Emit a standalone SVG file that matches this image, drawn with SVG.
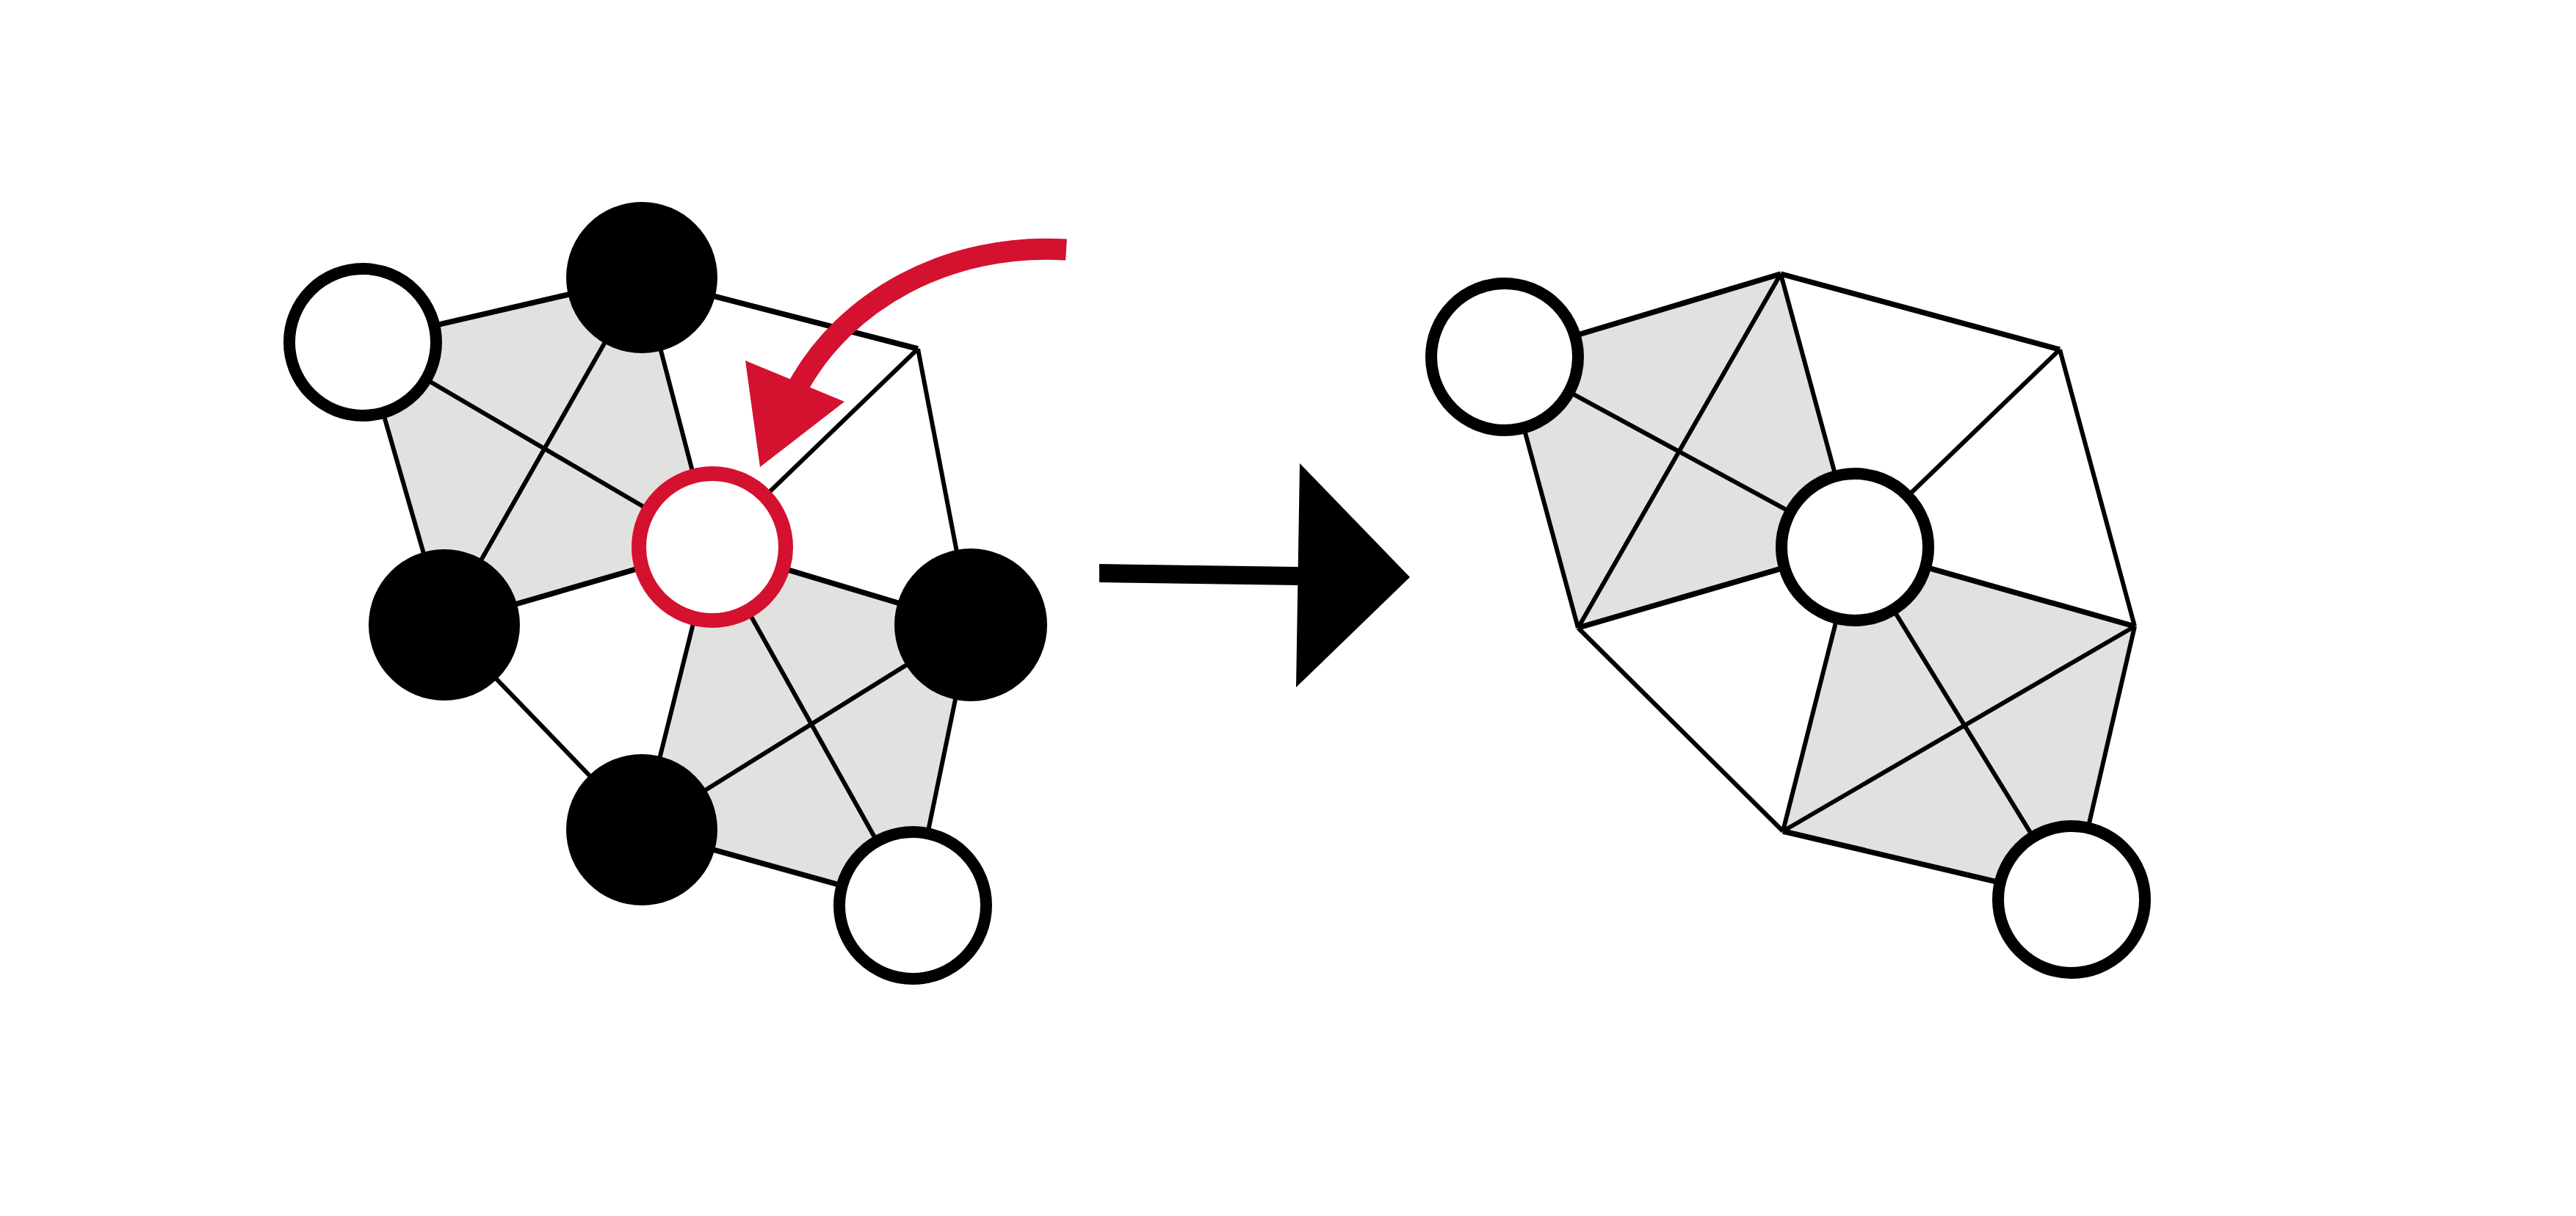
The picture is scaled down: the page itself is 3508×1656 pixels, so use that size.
<svg xmlns="http://www.w3.org/2000/svg" width="3508" height="1656" viewBox="0 0 3508 1656">
<style>
.bg{fill:#ffffff}
.face{fill:#e1e1df;stroke:none}
.thin{stroke:#000;stroke-width:6;fill:none}
.thick{stroke:#000;stroke-width:7.5;fill:none}
.wn{fill:#fff;stroke:#000;stroke-width:16}
.bn{fill:#000;stroke:none}
.rn{fill:#fff;stroke:#d4112f;stroke-width:20}
.red{fill:#d4112f}
</style>
<rect class="bg" x="0" y="0" width="3508" height="1656"/>
<g id="faces">
<polygon class="face" points="494,466 874,378 970,745 605,851"/>
<polygon class="face" points="970,745 1322,851 1243,1233 874,1130"/>
<polygon class="face" points="2049,486 2425,373 2526,745 2149,855"/>
<polygon class="face" points="2526,745 2907,853 2821,1225 2428,1132"/>
</g>
<g id="connectors">
<line class="thick" x1="494" y1="466" x2="874" y2="378"/>
<line class="thick" x1="874" y1="378" x2="1250" y2="475"/>
<line class="thin" x1="1250" y1="475" x2="1322" y2="851"/>
<line class="thin" x1="1250" y1="475" x2="970" y2="745"/>
<line class="thin" x1="874" y1="378" x2="970" y2="745"/>
<line class="thin" x1="494" y1="466" x2="970" y2="745"/>
<line class="thin" x1="874" y1="378" x2="605" y2="851"/>
<line class="thin" x1="494" y1="466" x2="605" y2="851"/>
<line class="thick" x1="605" y1="851" x2="970" y2="745"/>
<line class="thick" x1="970" y1="745" x2="1322" y2="851"/>
<line class="thin" x1="970" y1="745" x2="874" y2="1130"/>
<line class="thin" x1="970" y1="745" x2="1243" y2="1233"/>
<line class="thin" x1="874" y1="1130" x2="1322" y2="851"/>
<line class="thin" x1="1322" y1="851" x2="1243" y2="1233"/>
<line class="thick" x1="874" y1="1130" x2="1243" y2="1233"/>
<line class="thin" x1="605" y1="851" x2="874" y2="1130"/>
<line class="thick" x1="2049" y1="486" x2="2425" y2="373"/>
<line class="thick" x1="2425" y1="373" x2="2805" y2="476"/>
<line class="thin" x1="2805" y1="476" x2="2907" y2="853"/>
<line class="thin" x1="2805" y1="476" x2="2526" y2="745"/>
<line class="thin" x1="2425" y1="373" x2="2526" y2="745"/>
<line class="thin" x1="2425" y1="373" x2="2149" y2="855"/>
<line class="thin" x1="2049" y1="486" x2="2526" y2="745"/>
<line class="thin" x1="2049" y1="486" x2="2149" y2="855"/>
<line class="thick" x1="2149" y1="855" x2="2526" y2="745"/>
<line class="thick" x1="2526" y1="745" x2="2907" y2="853"/>
<line class="thin" x1="2149" y1="855" x2="2428" y2="1132"/>
<line class="thin" x1="2526" y1="745" x2="2428" y2="1132"/>
<line class="thin" x1="2526" y1="745" x2="2821" y2="1225"/>
<line class="thin" x1="2428" y1="1132" x2="2907" y2="853"/>
<line class="thin" x1="2907" y1="853" x2="2821" y2="1225"/>
<line class="thick" x1="2428" y1="1132" x2="2821" y2="1225"/>
<polygon fill="#000" points="1497,768 1768,772 1768,797 1497,793"/>
<polygon fill="#000" points="1770,631 1920,786 1765,936"/>
<path d="M1452,340 C1290,330 1150,410 1086,528" fill="none" stroke="#d4112f" stroke-width="29"/>
<polygon class="red" points="1015,491 1150,547 1035,636"/>
</g>
<g id="node-w1"><circle class="wn" cx="494" cy="466" r="100"/></g>
<g id="node-b1"><circle class="bn" cx="874" cy="378" r="103"/></g>
<g id="node-r"><circle class="rn" cx="970" cy="745" r="100"/></g>
<g id="node-bl"><circle class="bn" cx="605" cy="851" r="103"/></g>
<g id="node-br"><circle class="bn" cx="1322" cy="851" r="104"/></g>
<g id="node-bb"><circle class="bn" cx="874" cy="1130" r="103"/></g>
<g id="node-w2"><circle class="wn" cx="1243" cy="1233" r="100"/></g>
<g id="node-w1b"><circle class="wn" cx="2049" cy="486" r="100"/></g>
<g id="node-ctr"><circle class="wn" cx="2526" cy="745" r="100"/></g>
<g id="node-w2b"><circle class="wn" cx="2821" cy="1225" r="100"/></g>
</svg>
